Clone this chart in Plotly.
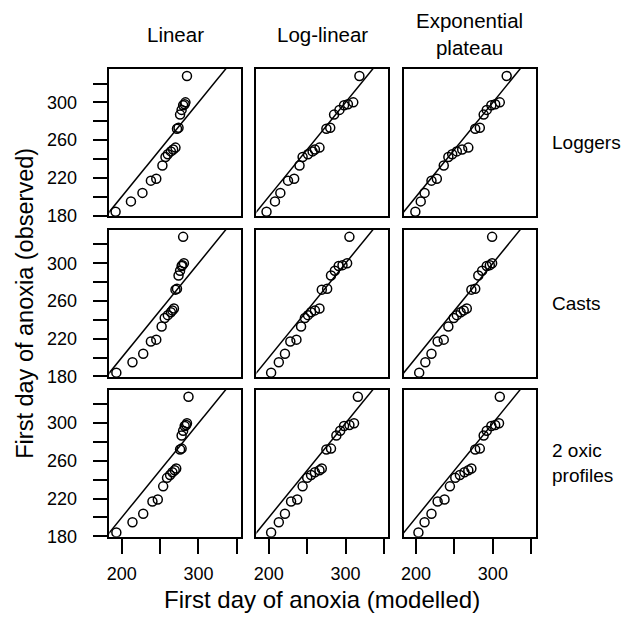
import plotly.graph_objects as go

# ---- data -------------------------------------------------------------
models = ["Linear", "Log-linear", "Exponential<br>plateau"]
sources = ["Loggers", "Casts", "2 oxic<br>profiles"]

observed = [184, 195, 204, 217, 219, 233, 242, 245, 248, 250, 252, 272, 273, 287, 292, 297, 298, 300, 328]

loggers_linear = [192, 212, 227, 238, 245, 253, 257, 260, 264, 267, 270, 272, 274, 276, 278, 280, 282, 283, 285]
loggers_loglin = [197, 208, 215, 225, 233, 240, 244, 251, 257, 260, 266, 275, 280, 285, 292, 298, 303, 310, 318]
loggers_exp = [199, 206, 211, 220, 227, 236, 242, 247, 253, 260, 268, 277, 283, 288, 292, 298, 303, 309, 318]

casts_linear = [193, 214, 228, 238, 245, 252, 256, 260, 264, 266, 268, 270, 272, 274, 276, 278, 279, 281, 280]
casts_loglin = [203, 213, 221, 228, 236, 242, 247, 251, 255, 260, 266, 269, 276, 281, 286, 291, 296, 302, 305]
casts_exp = [204, 212, 220, 228, 236, 242, 249, 253, 258, 262, 266, 272, 277, 281, 286, 292, 296, 299, 299]

profiles_linear = [193, 214, 228, 240, 247, 254, 259, 263, 266, 269, 271, 276, 278, 278, 280, 282, 284, 285, 287]
profiles_loglin = [203, 213, 221, 229, 237, 244, 250, 255, 260, 266, 269, 275, 281, 288, 293, 298, 305, 311, 316]
profiles_exp = [203, 211, 220, 228, 237, 244, 251, 257, 263, 268, 272, 277, 283, 288, 292, 298, 303, 308, 309]

modelled = [
    [loggers_linear, loggers_loglin, loggers_exp],
    [casts_linear, casts_loglin, casts_exp],
    [profiles_linear, profiles_loglin, profiles_exp],
]

x_tickvals = [200, 250, 300, 350]
x_ticktext = ["200", "", "300", ""]
y_tickvals = [180, 200, 220, 240, 260, 280, 300, 320]
y_ticktext = ["180", "", "220", "", "260", "", "300", ""]

x_range = [183.8, 355.6]
y_range = [179.5, 335.5]
one_to_one = [150, 380]

# ---- layout geometry (pixels) ------------------------------------------
W, H = 632, 627
col_left = [106.8, 254.6, 402.6]
col_w = 132.5
row_top = [70.0, 233.5, 396.0]
row_h = 149.5

FONT = "Liberation Sans, Arial, sans-serif"

fig = go.Figure()
layout = dict(
    width=W, height=H,
    margin=dict(l=0, r=0, t=0, b=0),
    paper_bgcolor="white", plot_bgcolor="white",
    showlegend=False,
    font=dict(family=FONT, color="black", size=16),
)

annotations = []
k = 0
for r in range(3):
    for c in range(3):
        k += 1
        xa = "x" if k == 1 else f"x{k}"
        ya = "y" if k == 1 else f"y{k}"
        xkey = "xaxis" if k == 1 else f"xaxis{k}"
        ykey = "yaxis" if k == 1 else f"yaxis{k}"

        fig.add_trace(go.Scatter(
            x=one_to_one, y=one_to_one, mode="lines",
            line=dict(color="black", width=1.5),
            xaxis=xa, yaxis=ya, hoverinfo="skip",
        ))
        fig.add_trace(go.Scatter(
            x=modelled[r][c], y=observed, mode="markers",
            marker=dict(symbol="circle-open", size=9, color="black",
                        line=dict(color="black", width=1.5)),
            xaxis=xa, yaxis=ya,
        ))

        x0 = col_left[c] / W
        x1 = (col_left[c] + col_w) / W
        y1 = 1 - row_top[r] / H
        y0 = 1 - (row_top[r] + row_h) / H

        bottom = (r == 2)
        left = (c == 0)
        layout[xkey] = dict(
            domain=[x0, x1], range=x_range, anchor=ya,
            showgrid=False, zeroline=False,
            showline=True, mirror=True, linecolor="black", linewidth=1.5,
            ticks="outside" if bottom else "", ticklen=15, tickwidth=1.5,
            tickcolor="black",
            tickvals=x_tickvals, ticktext=x_ticktext,
            showticklabels=bottom, ticklabelstandoff=5,
            tickfont=dict(size=18, family=FONT),
        )
        layout[ykey] = dict(
            domain=[y0, y1], range=y_range, anchor=xa,
            showgrid=False, zeroline=False,
            showline=True, mirror=True, linecolor="black", linewidth=1.5,
            ticks="outside" if left else "", ticklen=15, tickwidth=1.5,
            tickcolor="black",
            tickvals=y_tickvals, ticktext=y_ticktext,
            showticklabels=left, ticklabelstandoff=12,
            tickfont=dict(size=18, family=FONT),
        )

# column headers
for c, name in enumerate(models):
    cx = (col_left[c] + col_w / 2) / W
    annotations.append(dict(
        text=name, x=cx, y=1 - 35 / H, xref="paper", yref="paper",
        xanchor="center", yanchor="middle", showarrow=False,
        font=dict(size=20.5, family=FONT), align="center",
    ))

# row labels
for r, name in enumerate(sources):
    cy = 1 - (row_top[r] + row_h / 2) / H
    annotations.append(dict(
        text=name, x=550 / W, y=cy, xref="paper", yref="paper",
        xanchor="left", yanchor="middle", showarrow=False,
        font=dict(size=19, family=FONT), align="left",
    ))

# axis titles
annotations.append(dict(
    text="First day of anoxia (modelled)",
    x=(col_left[0] + col_left[2] + col_w) / 2 / W, y=1 - 609 / H,
    xref="paper", yref="paper", xanchor="center", yanchor="middle",
    showarrow=False, font=dict(size=24, family=FONT),
))
annotations.append(dict(
    text="First day of anoxia (observed)",
    x=22 / W, y=1 - (row_top[0] + row_top[2] + row_h) / 2 / H,
    xref="paper", yref="paper", xanchor="center", yanchor="middle",
    textangle=-90, showarrow=False, font=dict(size=23.5, family=FONT),
))

layout["annotations"] = annotations
fig.update_layout(**layout)
fig.write_html("out.html")
